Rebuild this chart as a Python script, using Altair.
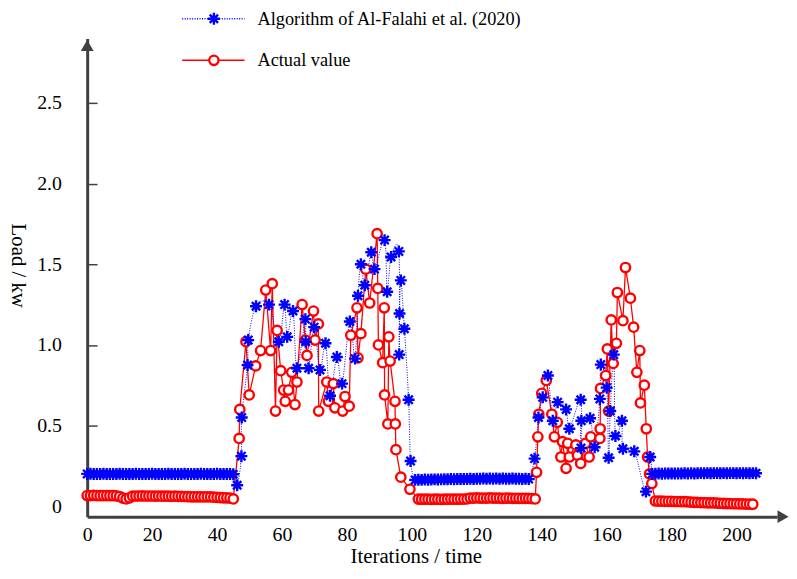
import altair as alt
import pandas as pd

ALG = "Algorithm of Al-Falahi et al. (2020)"
ACT = "Actual value"
PT_ALG = "pt-alg"
PT_ACT = "pt-act"

# ---------------- Actual value (red) ----------------
act_base1_x = list(range(0, 46))
act_base1_y = [0.066, 0.066, 0.067, 0.066, 0.065, 0.066, 0.066, 0.065, 0.065, 0.064,
               0.060, 0.050, 0.045, 0.052, 0.062, 0.063, 0.063, 0.064, 0.063, 0.063,
               0.063, 0.062, 0.063, 0.062, 0.062, 0.062, 0.061, 0.062, 0.061, 0.061,
               0.060, 0.059, 0.058, 0.058, 0.058, 0.058, 0.057, 0.058, 0.057, 0.056,
               0.055, 0.053, 0.052, 0.052, 0.050, 0.045]
act_a1_x = [46.8, 47.0, 48.9, 49.9, 51.9, 53.4, 55.0, 56.5, 57.0, 58.0,
            58.5, 59.6, 60.5, 61.0, 62.0, 63.0, 64.0, 64.6, 66.2, 67.2,
            67.7, 69.7, 70.2, 71.2, 71.3, 73.8, 74.3, 75.8, 76.3, 78.7,
            79.4, 80.7, 81.2, 83.1, 83.4, 84.3, 85.8, 87.0, 89.3, 89.5,
            89.7, 91.0, 91.5, 91.6, 92.6, 92.9, 93.3, 94.8, 94.9, 95.1,
            96.6, 99.4]
act_a1_y = [0.42, 0.60, 1.02, 0.69, 0.87, 0.965, 1.34, 0.965, 1.38, 0.59,
            1.09, 0.84, 0.72, 0.65, 0.72, 0.83, 0.63, 0.77, 1.25, 1.03,
            0.935, 1.21, 1.03, 1.13, 0.59, 0.77, 0.65, 0.76, 0.61, 0.59,
            0.68, 0.62, 1.06, 1.23, 0.92, 1.07, 1.47, 1.26, 1.69, 1.35,
            1.00, 0.89, 1.23, 0.69, 0.51, 1.05, 0.90, 0.65, 0.51, 0.35,
            0.18, 0.105]
act_base2_x = list(range(102, 139))
act_base2_y = [0.044, 0.043, 0.043, 0.043, 0.042, 0.043, 0.043, 0.042, 0.043, 0.043,
               0.044, 0.043, 0.043, 0.044, 0.044, 0.045,
               0.050, 0.050, 0.051, 0.050, 0.050, 0.050, 0.051, 0.050, 0.050, 0.050,
               0.049, 0.050, 0.050, 0.049, 0.049, 0.049, 0.048, 0.049, 0.048, 0.047,
               0.045]
act_a2_x = [138.4, 138.8, 139.1, 140.0, 141.4, 143.1, 143.9, 144.8, 145.9, 146.4,
            147.5, 148.0, 148.5, 150.5, 151.0, 152.0, 153.5, 154.6, 155.1, 157.9,
            158.0, 158.1, 159.7, 160.2, 160.6, 161.4, 162.0, 163.0, 163.3, 165.0,
            165.8, 167.3, 168.3, 169.3, 170.2, 170.4, 171.6, 172.2, 172.6, 173.2,
            173.9]
act_a2_y = [0.21, 0.43, 0.57, 0.70, 0.78, 0.57, 0.43, 0.52, 0.305, 0.40,
            0.235, 0.39, 0.305, 0.38, 0.315, 0.265, 0.39, 0.305, 0.43, 0.42,
            0.48, 0.73, 0.81, 0.975, 0.59, 1.155, 0.885, 1.01, 1.325, 1.15,
            1.48, 1.29, 1.11, 0.83, 0.965, 0.64, 0.75, 0.48, 0.305, 0.20,
            0.14]
act_base3_x = list(range(175, 206))
act_base3_y = [0.032, 0.031, 0.031, 0.030, 0.030, 0.030, 0.029, 0.029, 0.028, 0.028, 0.027,
               0.025, 0.024, 0.023, 0.022, 0.022, 0.021, 0.020, 0.020, 0.019, 0.018,
               0.017, 0.016, 0.016, 0.015, 0.015, 0.014, 0.014, 0.013, 0.013, 0.012]

# ---------------- Algorithm of Al-Falahi et al. (blue) ----------------
alg_base1_x = list(range(0, 46))
alg_base1_y = [0.200, 0.201, 0.200, 0.199, 0.200, 0.201, 0.200, 0.200, 0.199, 0.200,
               0.201, 0.200, 0.200, 0.199, 0.200, 0.201, 0.200, 0.200, 0.199, 0.200,
               0.201, 0.200, 0.200, 0.199, 0.200, 0.201, 0.200, 0.200, 0.199, 0.200,
               0.201, 0.200, 0.200, 0.199, 0.200, 0.201, 0.200, 0.200, 0.199, 0.200,
               0.201, 0.200, 0.200, 0.199, 0.200, 0.198]
alg_a1_x = [46.2, 47.5, 47.6, 49.4, 49.6, 52.0, 56.0, 59.0, 60.8, 61.6,
            63.4, 64.6, 67.2, 67.3, 68.2, 69.9, 71.7, 73.4, 74.8, 76.9,
            78.5, 80.9, 82.5, 83.4, 84.3, 85.5, 87.5, 88.5, 91.6, 92.4,
            93.6, 96.0, 96.1, 96.2, 96.6, 97.7, 99.0, 99.6]
alg_a1_y = [0.13, 0.31, 0.55, 0.875, 1.03, 1.24, 1.25, 1.02, 1.25, 1.05,
            1.21, 0.855, 1.16, 1.02, 0.855, 1.11, 0.845, 1.01, 0.685, 0.925,
            0.76, 1.145, 0.915, 1.305, 1.50, 1.37, 1.575, 1.47, 1.65, 1.33,
            1.545, 1.58, 0.94, 1.195, 1.40, 1.10, 0.66, 0.28]
alg_base2_x = list(range(101, 137))
alg_base2_y = [0.163, 0.164, 0.163, 0.165, 0.164, 0.165, 0.166, 0.165, 0.166, 0.167,
               0.167, 0.168, 0.167, 0.168, 0.169, 0.168, 0.169, 0.170, 0.169, 0.170,
               0.170, 0.171, 0.170, 0.171, 0.170, 0.171, 0.170, 0.171, 0.170, 0.170,
               0.171, 0.170, 0.170, 0.169, 0.170, 0.168]
alg_a2_x = [137.8, 139.0, 140.3, 141.9, 143.4, 144.9, 147.5, 148.5, 152.0, 152.1,
            152.2, 154.9, 156.3, 157.9, 158.2, 160.0, 160.6, 161.1, 162.2, 162.7,
            164.7, 165.0, 168.5, 172.1, 173.4]
alg_a2_y = [0.295, 0.55, 0.675, 0.81, 0.53, 0.645, 0.60, 0.48, 0.66, 0.36,
            0.53, 0.545, 0.365, 0.665, 0.878, 0.735, 0.30, 0.59, 0.94, 0.435,
            0.53, 0.356, 0.34, 0.09, 0.305]
alg_base3_x = list(range(174, 207))
alg_base3_y = [0.200, 0.201, 0.202, 0.201, 0.202, 0.203, 0.202, 0.203, 0.202, 0.203,
               0.204, 0.203, 0.204, 0.203, 0.204, 0.205, 0.204, 0.205, 0.204, 0.205,
               0.205, 0.204, 0.205, 0.204, 0.205, 0.205, 0.204, 0.205, 0.204, 0.205,
               0.204, 0.205, 0.204]

x_ticks = [0, 20, 40, 60, 80, 100, 120, 140, 160, 180, 200]
y_ticks = [0, 0.5, 1.0, 1.5, 2.0, 2.5]
y_inner_ticks = [0.5, 1.0, 1.5, 2.0, 2.5]

BLUE = "#0000ff"
RED = "#ff0000"
AXIS_C = "#404040"
FONT = "Liberation Serif"
W, H = 697, 483

ASTERISK = "M0,-1.15L0,1.15M-1.15,0L1.15,0M-0.8,-0.8L0.8,0.8M-0.8,0.8L0.8,-0.8"
CIRCLE = "M-0.9,0A0.9,0.9,0,1,0,0.9,0A0.9,0.9,0,1,0,-0.9,0Z"

rows = []
def add(series, key, xs, ys):
    for a, b in zip(xs, ys):
        rows.append({"series": series, "pkey": key, "x": a, "y": b})

add(ACT, PT_ACT, act_base1_x, act_base1_y)
add(ACT, PT_ACT, act_a1_x, act_a1_y)
add(ACT, PT_ACT, act_base2_x, act_base2_y)
add(ACT, PT_ACT, act_a2_x, act_a2_y)
add(ACT, PT_ACT, act_base3_x, act_base3_y)
add(ALG, PT_ALG, alg_base1_x, alg_base1_y)
add(ALG, PT_ALG, alg_a1_x, alg_a1_y)
add(ALG, PT_ALG, alg_base2_x, alg_base2_y)
add(ALG, PT_ALG, alg_a2_x, alg_a2_y)
add(ALG, PT_ALG, alg_base3_x, alg_base3_y)
df = pd.DataFrame(rows)

x_enc = alt.X(
    "x:Q",
    scale=alt.Scale(domain=[0, 212.5], nice=False, zero=False),
    axis=alt.Axis(
        values=x_ticks, grid=False, ticks=False, tickSize=0,
        labelFont=FONT, labelFontSize=20, labelColor="black", labelPadding=8,
        labelFlush=False,
        domainColor=AXIS_C, domainWidth=3,
        title="Iterations / time", titleFont=FONT, titleFontSize=21,
        titleFontWeight="normal", titleColor="black",
        titleX=332, titleY=46, titleAlign="center", titleBaseline="alphabetic",
    ),
)
y_scale = alt.Scale(domain=[-0.065, 2.9], nice=False, zero=False)
y_left = alt.Y(
    "y:Q", scale=y_scale,
    axis=alt.Axis(
        values=y_ticks, grid=False, ticks=False, tickSize=0,
        labelExpr="datum.value == 0 ? '0' : format(datum.value, '.1f')",
        labelFont=FONT, labelFontSize=20, labelColor="black", labelPadding=26,
        domainColor=AXIS_C, domainWidth=3,
        title="Load / kw", titleFont=FONT, titleFontSize=21,
        titleFontWeight="normal", titleColor="black", titleAngle=90,
        titleX=-70, titleY=229, titleAlign="center", titleBaseline="middle",
    ),
)
y_right = alt.Y(
    "y:Q", scale=y_scale,
    axis=alt.Axis(
        orient="right", offset=-W, values=y_inner_ticks, grid=False,
        domain=False, labels=False, ticks=True, tickSize=10,
        tickColor=AXIS_C, tickWidth=1.5, title=None,
    ),
)
y_none = alt.Y("y:Q", scale=y_scale, axis=None)

line_legend = alt.Legend(
    orient="none", legendX=95, legendY=-30, title=None, padding=0,
    symbolType="stroke", symbolSize=3969, symbolStrokeWidth=1.5,
    labelFont=FONT, labelFontSize=18.5, labelColor="black", labelOffset=12,
    rowPadding=22, clipHeight=20, labelLimit=400,
)
pt_legend = alt.Legend(
    orient="none", legendX=121.5, legendY=-30, title=None, padding=0,
    symbolSize=110, symbolStrokeWidth=2.4, symbolFillColor="white",
    labelExpr="''", labelFontSize=1, labelOffset=0,
    rowPadding=22, clipHeight=20,
)

color_enc = alt.Color("series:N", scale=alt.Scale(domain=[ALG, ACT], range=[BLUE, RED]),
                      legend=line_legend)
dash_enc = alt.StrokeDash("series:N", scale=alt.Scale(domain=[ALG, ACT], range=[[1, 1.5], [1, 0]]),
                          legend=line_legend)

base = alt.Chart(df)

red_line = base.transform_filter(alt.datum.series == ACT).mark_line(
    strokeWidth=1.3, interpolate="linear"
).encode(x=x_enc, y=y_left, color=color_enc, strokeDash=dash_enc)

blue_line = base.transform_filter(alt.datum.series == ALG).mark_line(
    strokeWidth=1, interpolate="cardinal"
).encode(x=x_enc, y=y_right, color=color_enc, strokeDash=dash_enc)

points = base.mark_point(fill="white", strokeWidth=2.4, size=110, opacity=1).encode(
    x=x_enc, y=y_none,
    shape=alt.Shape("pkey:N", scale=alt.Scale(domain=[PT_ALG, PT_ACT], range=[ASTERISK, CIRCLE]),
                    legend=pt_legend),
    stroke=alt.Stroke("pkey:N", scale=alt.Scale(domain=[PT_ALG, PT_ACT], range=[BLUE, RED]),
                      legend=pt_legend),
)

arrow_df = pd.DataFrame({"k": [0]})
arrow_up = alt.Chart(arrow_df).mark_point(
    shape="triangle-up", filled=True, color=AXIS_C, size=169, opacity=1
).encode(x=alt.value(0), y=alt.value(7))
arrow_right = alt.Chart(arrow_df).mark_point(
    shape="triangle-right", filled=True, color=AXIS_C, size=169, opacity=1
).encode(x=alt.value(W + 6), y=alt.value(H))

chart = alt.layer(red_line, blue_line, points, arrow_up, arrow_right).resolve_axis(
    y="independent"
).properties(
    width=W, height=H,
    padding={"left": 80, "top": 28, "right": 12, "bottom": 47},
    autosize=alt.AutoSizeParams(type="none"),
    background="white",
).configure_view(stroke=None)

chart.save("out.html", embed_options={"renderer": "svg", "actions": False})
